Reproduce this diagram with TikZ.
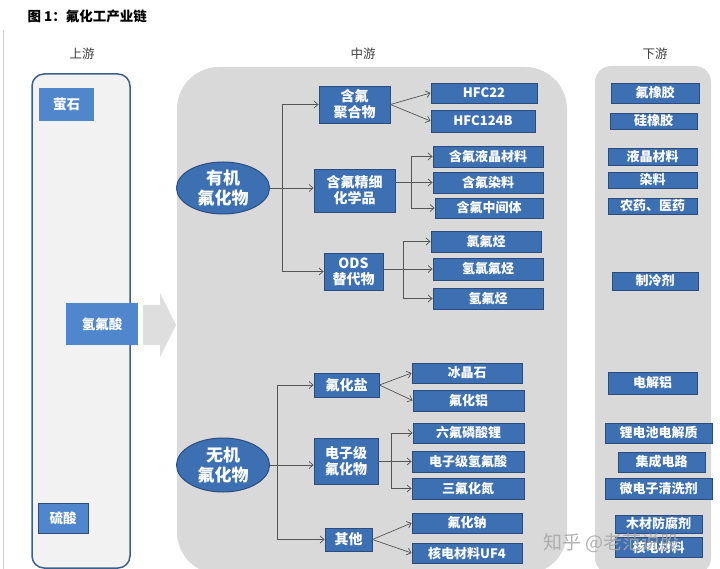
\documentclass[tikz,border=0pt]{standalone}
\usepackage{fontspec}
\setmainfont{Noto Sans CJK SC}
\usetikzlibrary{arrows.meta,shapes.geometric}
\definecolor{bx}{HTML}{3D70B2}
\definecolor{bdr}{HTML}{2B4C7E}
\definecolor{upbx}{HTML}{4F86CC}
\definecolor{panel}{HTML}{D9D9D9}
\definecolor{uppanel}{HTML}{F2F2F2}
\definecolor{uprim}{HTML}{3D5F8E}
\definecolor{conn}{HTML}{555555}
\newcommand\mybox[7]{%
  \node[#1, minimum width={(#5-#3)*1pt}, minimum height={(#6-#4)*1pt}] (#2) at ({(#3+#5)/2},{(#4+#6)/2}) {#7};}
\tikzset{
  dbox/.style={draw=bdr, fill=bx, text=white, line width=0.9pt, inner sep=0pt, align=center,
    font=\fontsize{13}{15}\selectfont\bfseries},
  ubox/.style={fill=upbx, text=white, inner sep=0pt, align=center, font=\fontsize{13.5}{15}\selectfont\bfseries},
  oval/.style={ellipse, draw=bdr, fill=bx, text=white, line width=1pt, inner sep=0pt, align=center,
    font=\fontsize{17}{20}\selectfont\bfseries},
  con/.style={draw=conn, line width=0.7pt, -{Straight Barb[length=4pt,width=7pt]}},
  lin/.style={draw=conn, line width=0.7pt},
  hdr/.style={text=black!75, font=\fontsize{12.5}{14}\selectfont},
}
\begin{document}
\begin{tikzpicture}[x=1pt,y=-1pt]
\useasboundingbox (0,0) rectangle (720,569);
\fill[white] (0,0) rectangle (720,569);
\draw[black!20, line width=0.8pt] (3,30) -- (3,569);
% title and headers
\node[anchor=west, font=\fontsize{13.5}{15}\selectfont\bfseries] (title) at (24,16) {图 1：氟化工产业链};
\node[hdr] (hup) at (82,54) {上游};
\node[hdr] (hmid) at (363,54) {中游};
\node[hdr] (hdown) at (655,54) {下游};
% panels
\draw[fill=uppanel, draw=uprim, line width=1.5pt, rounded corners=12pt] (32,74) rectangle (130,568);
\fill[panel, rounded corners=42pt] (177,67) rectangle (567,574);
\fill[panel, rounded corners=16pt] (595,66) rectangle (711,574);
% big arrow
\fill[black!13] (143,305) -- (160,305) -- (160,293) -- (176,325) -- (160,357) -- (160,345) -- (143,345) -- cycle;
% upstream
\mybox{ubox}{fluorite}{39}{88}{94}{121}{萤石}
\mybox{ubox}{hfacid}{66}{303}{138}{345}{氢氟酸}
\mybox{ubox, draw=bdr, line width=0.9pt}{sulf}{38}{503}{88}{533}{硫酸}
% organic
\node[oval, minimum width=93pt, minimum height=52pt] (org) at (223,188) {有机\\氟化物};
\mybox{dbox, font=\fontsize{14}{16}\selectfont\bfseries}{poly}{319}{86}{390}{123}{含氟\\聚合物}
\mybox{dbox, font=\fontsize{14}{16}\selectfont\bfseries}{fine}{314}{169}{395}{212}{含氟精细\\化学品}
\mybox{dbox, font=\fontsize{14}{16}\selectfont\bfseries}{ods}{324}{253}{383}{290}{ODS\\替代物}
\mybox{dbox}{hfc22}{431}{83}{537}{103}{HFC22}
\mybox{dbox}{hfc124}{431}{110}{535}{132}{HFC124B}
\mybox{dbox}{lcd}{433}{146}{543}{167}{含氟液晶材料}
\mybox{dbox}{dye}{433}{172}{543}{193}{含氟染料}
\mybox{dbox}{inter}{435}{198}{543}{218}{含氟中间体}
\mybox{dbox}{cfc}{431}{231}{541}{252}{氯氟烃}
\mybox{dbox}{hcfc}{433}{258}{543}{280}{氢氯氟烃}
\mybox{dbox}{hfcs}{433}{288}{543}{309}{氢氟烃}
% inorganic
\node[oval, minimum width=93pt, minimum height=54pt] (inorg) at (223,465) {无机\\氟化物};
\mybox{dbox, font=\fontsize{14}{16}\selectfont\bfseries}{salt}{314}{373}{379}{397}{氟化盐}
\mybox{dbox, font=\fontsize{14}{16}\selectfont\bfseries}{ebox}{314}{438}{378}{484}{电子级\\氟化物}
\mybox{dbox, font=\fontsize{14}{16}\selectfont\bfseries}{other}{325}{528}{372}{551}{其他}
\mybox{dbox}{ice}{412}{363}{522}{383}{冰晶石}
\mybox{dbox}{alf}{413}{390}{524}{411}{氟化铝}
\mybox{dbox}{lipf}{413}{423}{524}{443}{六氟磷酸锂}
\mybox{dbox}{ehf}{412}{451}{524}{472}{电子级氢氟酸}
\mybox{dbox}{nf}{412}{478}{524}{499}{三氟化氮}
\mybox{dbox}{naf}{412}{513}{522}{533}{氟化钠}
\mybox{dbox}{uf}{412}{543}{522}{563}{核电材料UF4}
% downstream
\mybox{dbox}{d1}{611}{83}{699}{103}{氟橡胶}
\mybox{dbox}{d2}{610}{113}{697}{129}{硅橡胶}
\mybox{dbox}{d3}{608}{148}{697}{165}{液晶材料}
\mybox{dbox}{d4}{608}{172}{697}{188}{染料}
\mybox{dbox}{d5}{608}{198}{697}{214}{农药、医药}
\mybox{dbox}{d6}{612}{272}{698}{290}{制冷剂}
\mybox{dbox}{d7}{608}{372}{697}{394}{电解铝}
\mybox{dbox}{d8}{605}{423}{712}{443}{锂电池电解质}
\mybox{dbox}{d9}{618}{452}{705}{472}{集成电路}
\mybox{dbox}{d10}{605}{478}{712}{499}{微电子清洗剂}
\mybox{dbox}{d11}{615}{515}{702}{533}{木材防腐剂}
\mybox{dbox}{d12}{615}{537}{702}{557}{核电材料}
% organic connectors
\coordinate (ot) at (282,188);
\draw[con] (org.east) -- (fine.west |- org.east);
\draw[con] (ot) |- (poly.west);
\draw[con] (ot) |- (ods.west);
\draw[con] (poly.east) -- (hfc22.west);
\draw[con] (poly.east) -- (hfc124.west);
\coordinate (fb) at (411,182.5);
\draw[con] (fine.east |- dye.west) -- (dye.west);
\draw[con] (fb) |- (lcd.west);
\draw[con] (fb) |- (inter.west);
\coordinate (ob) at (403,269);
\draw[con] (ods.east |- hcfc.west) -- (hcfc.west);
\draw[con] (ob) |- (cfc.west);
\draw[con] (ob) |- (hfcs.west);
% inorganic connectors
\coordinate (it) at (277,465);
\draw[con] (inorg.east) -- (ebox.west |- inorg.east);
\draw[con] (it) |- (salt.west);
\draw[con] (it) |- (other.west);
\draw[con] (salt.east) -- (ice.west);
\draw[con] (salt.east) -- (alf.west);
\coordinate (eb) at (391,461.5);
\draw[con] (ebox.east |- ehf.west) -- (ehf.west);
\draw[con] (eb) |- (lipf.west);
\draw[con] (eb) |- (nf.west);
\draw[con] (other.east) -- (naf.west);
\draw[con] (other.east) -- (uf.west);
% watermark
\node[anchor=west, text=black!35, opacity=0.85, font=\fontsize{19}{21}\selectfont] (wm) at (540,543) {知乎 @老范说股};
\end{tikzpicture}
\end{document}
